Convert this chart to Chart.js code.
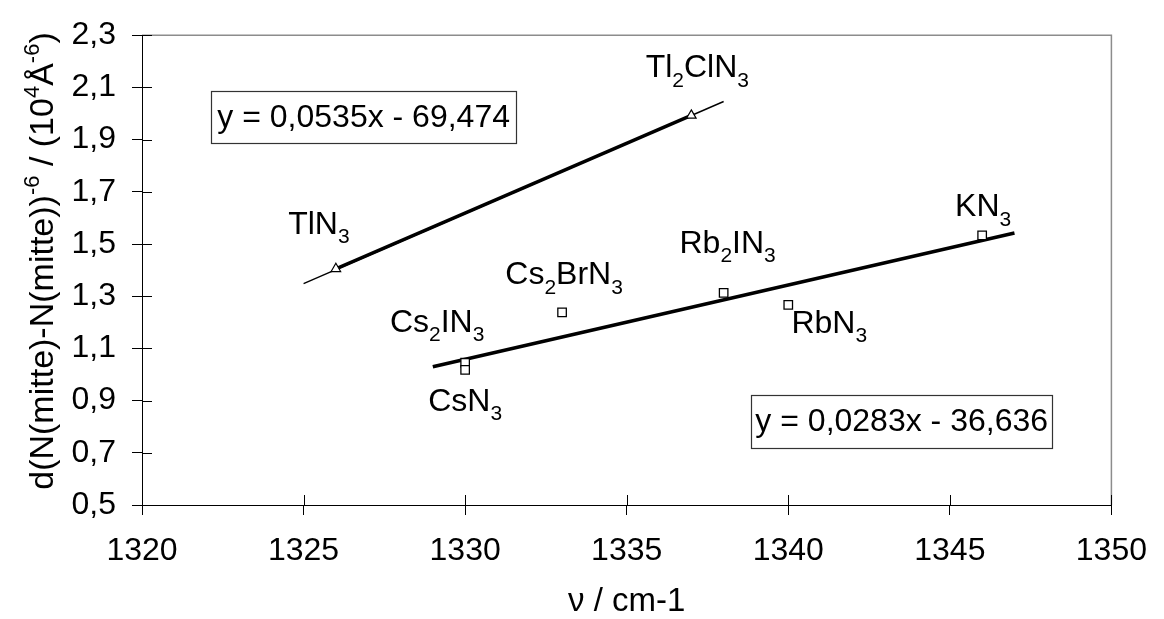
<!DOCTYPE html>
<html>
<head>
<meta charset="utf-8">
<script src="https://cdn.jsdelivr.net/npm/chart.js@4.4.1/dist/chart.umd.min.js"></script>
<style>
  html, body { margin: 0; padding: 0; background: #fff; }
  #wrap { width: 1164px; height: 619px; }
</style>
</head>
<body>
<div id="wrap"><canvas id="chart" width="1164" height="619"></canvas></div>
<script>
// axis ticks
const xTicks = [1320, 1325, 1330, 1335, 1340, 1345, 1350];
const yTicks = [0.5, 0.7, 0.9, 1.1, 1.3, 1.5, 1.7, 1.9, 2.1, 2.3];

// thallium azides (triangles)
const tlNames = ['TlN3', 'Tl2ClN3'];
const tlX = [1326, 1337];
const tlY = [1.405, 1.993];

// alkali azides (squares)
const alkNames = ['Cs2IN3', 'CsN3', 'Cs2BrN3', 'Rb2IN3', 'RbN3', 'KN3'];
const alkX = [1330, 1330, 1333, 1338, 1340, 1346];
const alkY = [1.045, 1.018, 1.238, 1.313, 1.267, 1.533];

// trend lines as drawn (end points)
const tlFitX = [1325, 1338];
const tlFitY = [1.348, 2.046];
const alkFitX = [1329, 1347];
const alkFitY = [1.030, 1.542];

const tlEquation = 'y = 0,0535x - 69,474';
const alkEquation = 'y = 0,0283x - 36,636';

const FONT = '"Liberation Sans", Arial, sans-serif';
const LABEL_SIZE = 32;

// where each label sits relative to its point (px)
const labelOffset = {
  'TlN3':    { dx: -17, dy: -35 },
  'Tl2ClN3': { dx: 6,   dy: -38 },
  'Cs2IN3':  { dx: -28, dy: -31 },
  'CsN3':    { dx: 0,   dy: 41 },
  'Cs2BrN3': { dx: 2,   dy: -28 },
  'Rb2IN3':  { dx: 4,   dy: -40 },
  'RbN3':    { dx: 41,  dy: 28 },
  'KN3':     { dx: 1,   dy: -19 }
};

// equation boxes: centre in data units
const eqBoxes = [
  { text: tlEquation, x: 1326.86, y: 1.985, w: 305, h: 52 },
  { text: alkEquation, x: 1343.51, y: 0.82, w: 301, h: 53 }
];

const toPts = (xs, ys) => xs.map((x, i) => ({ x: x, y: ys[i] }));

// split formula so that digits become subscripts
function formulaRuns(name) {
  const runs = [];
  for (const ch of name) {
    const kind = /[0-9]/.test(ch) ? 'sub' : 'n';
    if (runs.length && runs[runs.length - 1][1] === kind) runs[runs.length - 1][0] += ch;
    else runs.push([ch, kind]);
  }
  return runs;
}

function runFont(kind, size) {
  return (kind === 'n' ? size : Math.round(size * 0.65)) + 'px ' + FONT;
}

function runsWidth(ctx, runs, size) {
  let w = 0;
  runs.forEach(r => { ctx.font = runFont(r[1], size); w += ctx.measureText(r[0]).width; });
  return w;
}

function drawRuns(ctx, runs, x, y, size) {
  let cx = x;
  ctx.textBaseline = 'alphabetic';
  ctx.textAlign = 'left';
  runs.forEach(r => {
    ctx.font = runFont(r[1], size);
    let oy = 0;
    if (r[1] === 'sub') oy = size * 0.3;
    if (r[1] === 'sup') oy = -size * 0.42;
    ctx.fillText(r[0], cx, y + oy);
    cx += ctx.measureText(r[0]).width;
  });
}

const decor = {
  id: 'decor',
  afterDraw(chart) {
    const ctx = chart.ctx;
    const a = chart.chartArea;
    const xs = chart.scales.x, ys = chart.scales.y;
    ctx.save();

    // grey frame top and right
    ctx.strokeStyle = '#8c8c8c';
    ctx.lineWidth = 1.5;
    ctx.beginPath();
    ctx.moveTo(a.left, a.top);
    ctx.lineTo(a.right, a.top);
    ctx.lineTo(a.right, a.bottom);
    ctx.stroke();

    // inner half of the tick marks
    ctx.strokeStyle = '#000';
    ctx.lineWidth = 1;
    ctx.beginPath();
    yTicks.forEach(v => {
      const py = Math.round(ys.getPixelForValue(v)) + 0.5;
      ctx.moveTo(a.left, py);
      ctx.lineTo(a.left + 10, py);
    });
    xTicks.forEach(v => {
      const px = Math.round(xs.getPixelForValue(v)) + 0.5;
      ctx.moveTo(px, a.bottom);
      ctx.lineTo(px, a.bottom - 10);
    });
    ctx.stroke();

    // point labels
    ctx.fillStyle = '#000';
    const label = (name, x, y) => {
      const runs = formulaRuns(name);
      const off = labelOffset[name];
      const w = runsWidth(ctx, runs, LABEL_SIZE);
      const px = xs.getPixelForValue(x) + off.dx - w / 2;
      const py = ys.getPixelForValue(y) + off.dy;
      drawRuns(ctx, runs, px, py, LABEL_SIZE);
    };
    tlNames.forEach((n, i) => label(n, tlX[i], tlY[i]));
    alkNames.forEach((n, i) => label(n, alkX[i], alkY[i]));

    // equation boxes
    eqBoxes.forEach(b => {
      const cx = xs.getPixelForValue(b.x), cy = ys.getPixelForValue(b.y);
      ctx.fillStyle = '#fff';
      ctx.fillRect(cx - b.w / 2, cy - b.h / 2, b.w, b.h);
      ctx.strokeStyle = '#333';
      ctx.lineWidth = 1.2;
      ctx.strokeRect(Math.round(cx - b.w / 2) + 0.5, Math.round(cy - b.h / 2) + 0.5, b.w, b.h);
      ctx.fillStyle = '#000';
      ctx.font = LABEL_SIZE + 'px ' + FONT;
      ctx.textAlign = 'center';
      ctx.textBaseline = 'middle';
      ctx.fillText(b.text, cx, cy + 1);
    });

    // rotated y title with super scripts
    const titleRuns = [
      ['d(N(mitte)-N(mitte))', 'n'], ['-6', 'sup'], [' / (10', 'n'],
      ['4', 'sup'], ['\u00c5', 'n'], ['-6', 'sup'], [')', 'n']
    ];
    const tsize = 34;
    const tw = runsWidth(ctx, titleRuns, tsize);
    ctx.translate(53, 261);
    ctx.rotate(-Math.PI / 2);
    drawRuns(ctx, titleRuns, -tw / 2, 0, tsize);
    ctx.restore();
  }
};

new Chart(document.getElementById('chart'), {
  type: 'scatter',
  data: {
    datasets: [
      {
        label: 'Tl',
        data: toPts(tlX, tlY),
        showLine: true,
        borderColor: '#000',
        borderWidth: 3.5,
        pointStyle: 'triangle',
        pointRadius: 5.5,
        pointBackgroundColor: '#fff',
        pointBorderColor: '#000',
        pointBorderWidth: 1.2
      },
      {
        label: 'Alkali',
        data: toPts(alkX, alkY),
        showLine: false,
        pointStyle: 'rect',
        pointRadius: 6,
        pointBackgroundColor: '#fff',
        pointBorderColor: '#000',
        pointBorderWidth: 1.3
      },
      {
        label: 'Tl fit',
        data: toPts(tlFitX, tlFitY),
        showLine: true,
        borderColor: '#000',
        borderWidth: 1.4,
        pointRadius: 0
      },
      {
        label: 'Alkali fit',
        data: toPts(alkFitX, alkFitY),
        showLine: true,
        borderColor: '#000',
        borderWidth: 3.5,
        pointRadius: 0
      }
    ]
  },
  options: {
    responsive: false,
    animation: false,
    devicePixelRatio: 1,
    layout: { padding: { top: 24, right: 49, left: 0, bottom: 0 } },
    plugins: {
      legend: { display: false },
      tooltip: { enabled: false }
    },
    scales: {
      x: {
        type: 'linear',
        min: 1320,
        max: 1350,
        afterBuildTicks: s => { s.ticks = xTicks.map(v => ({ value: v })); },
        afterFit: s => { s.height = 114; },
        grid: { drawOnChartArea: false, tickLength: 10, color: '#000' },
        border: { color: '#000', width: 1 },
        ticks: {
          color: '#000',
          padding: 17,
          maxRotation: 0,
          font: { family: FONT, size: 32 },
          callback: v => String(v)
        },
        title: {
          display: true,
          text: '\u03bd / cm-1',
          color: '#000',
          padding: { top: 0, bottom: -3 },
          font: { family: FONT, size: 33 }
        }
      },
      y: {
        type: 'linear',
        min: 0.5,
        max: 2.3,
        afterBuildTicks: s => { s.ticks = yTicks.map(v => ({ value: v })); },
        afterFit: s => { s.width = 142; },
        grid: { drawOnChartArea: false, tickLength: 10, color: '#000' },
        border: { color: '#000', width: 1 },
        ticks: {
          color: '#000',
          padding: 16,
          font: { family: FONT, size: 32 },
          callback: v => v.toFixed(1).replace('.', ',')
        }
      }
    }
  },
  plugins: [decor]
});
</script>
</body>
</html>
